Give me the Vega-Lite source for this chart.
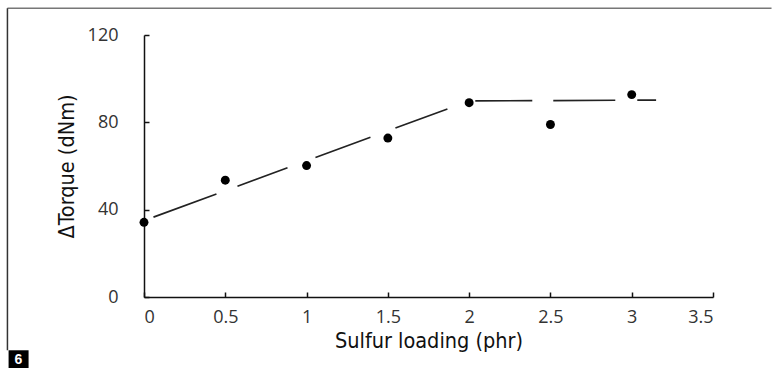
{
  "$schema": "https://vega.github.io/schema/vega-lite/v6.json",
  "width": 569,
  "height": 262,
  "autosize": {"type": "pad"},
  "padding": {"left": 6, "top": 7, "right": 1, "bottom": 0},
  "background": "white",
  "config": {
    "view": {"stroke": null},
    "axis": {
      "domainColor": "#111",
      "domainWidth": 1.5,
      "tickColor": "#111",
      "tickWidth": 1.5,
      "tickSize": -5,
      "grid": false,
      "labelFont": "Open Sans",
      "labelFontSize": 18,
      "labelColor": "#333",
      "titleFont": "DejaVu Sans Condensed",
      "titleFontSize": 21.5,
      "titleFontWeight": "normal",
      "titleColor": "#111"
    }
  },
  "datasets": {
    "points": [
      {"sulfur": 0, "torque": 34.2},
      {"sulfur": 0.5, "torque": 53.5},
      {"sulfur": 1, "torque": 60.2},
      {"sulfur": 1.5, "torque": 72.8},
      {"sulfur": 2, "torque": 89.0},
      {"sulfur": 2.5, "torque": 79.0},
      {"sulfur": 3, "torque": 92.7}
    ],
    "fit": [
      {"sulfur": 0, "torque": 35},
      {"sulfur": 2, "torque": 89.8},
      {"sulfur": 3.15, "torque": 90.2}
    ],
    "panel": [{"label": "6"}]
  },
  "layer": [
    {
      "data": {"name": "panel"},
      "mark": {"type": "rule", "color": "#777", "strokeWidth": 1.5},
      "encoding": {
        "x": {"datum": -0.84, "type": "quantitative", "scale": {"domain": [0, 3.5], "nice": false}},
        "x2": {"datum": 3.86},
        "y": {"datum": 132.2, "type": "quantitative", "scale": {"domain": [0, 120], "nice": false}}
      }
    },
    {
      "data": {"name": "panel"},
      "mark": {"type": "rule", "color": "#333", "strokeWidth": 1.5},
      "encoding": {
        "x": {"datum": -0.84, "type": "quantitative"},
        "y": {"datum": 132.2, "type": "quantitative"},
        "y2": {"datum": -24.4}
      }
    },
    {
      "data": {"name": "panel"},
      "mark": {"type": "rect", "color": "#000"},
      "encoding": {
        "x": {"datum": -0.833, "type": "quantitative"},
        "x2": {"datum": -0.71},
        "y": {"datum": -24.4, "type": "quantitative"},
        "y2": {"datum": -32.7}
      }
    },
    {
      "data": {"name": "panel"},
      "mark": {"type": "text", "color": "white", "font": "Liberation Sans", "fontWeight": "bold", "fontSize": 14, "align": "center", "baseline": "middle"},
      "encoding": {
        "x": {"datum": -0.772, "type": "quantitative"},
        "y": {"datum": -28.7, "type": "quantitative"},
        "text": {"field": "label"}
      }
    },
    {
      "data": {"name": "fit"},
      "mark": {"type": "line", "color": "#222", "strokeWidth": 1.7, "strokeDash": [0, 10.1, 67.1, 22.4, 53.3, 29.8, 58.6, 26.6, 55.4, 29.3, 57, 21, 62, 22, 40, 10]},
      "encoding": {
        "x": {"field": "sulfur", "type": "quantitative"},
        "y": {"field": "torque", "type": "quantitative"}
      }
    },
    {
      "data": {"name": "points"},
      "mark": {"type": "point", "filled": true, "color": "#000", "size": 80, "opacity": 1},
      "encoding": {
        "x": {
          "field": "sulfur",
          "type": "quantitative",
          "scale": {"domain": [0, 3.5], "nice": false},
          "axis": {"values": [0, 0.5, 1, 1.5, 2, 2.5, 3, 3.5], "format": "~g", "labelPadding": 16, "title": "Sulfur loading (phr)", "titlePadding": 4}
        },
        "y": {
          "field": "torque",
          "type": "quantitative",
          "scale": {"domain": [0, 120], "nice": false},
          "axis": {"values": [0, 40, 80, 120], "labelPadding": 31, "title": "ΔTorque (dNm)", "titlePadding": 9}
        }
      }
    }
  ]
}
